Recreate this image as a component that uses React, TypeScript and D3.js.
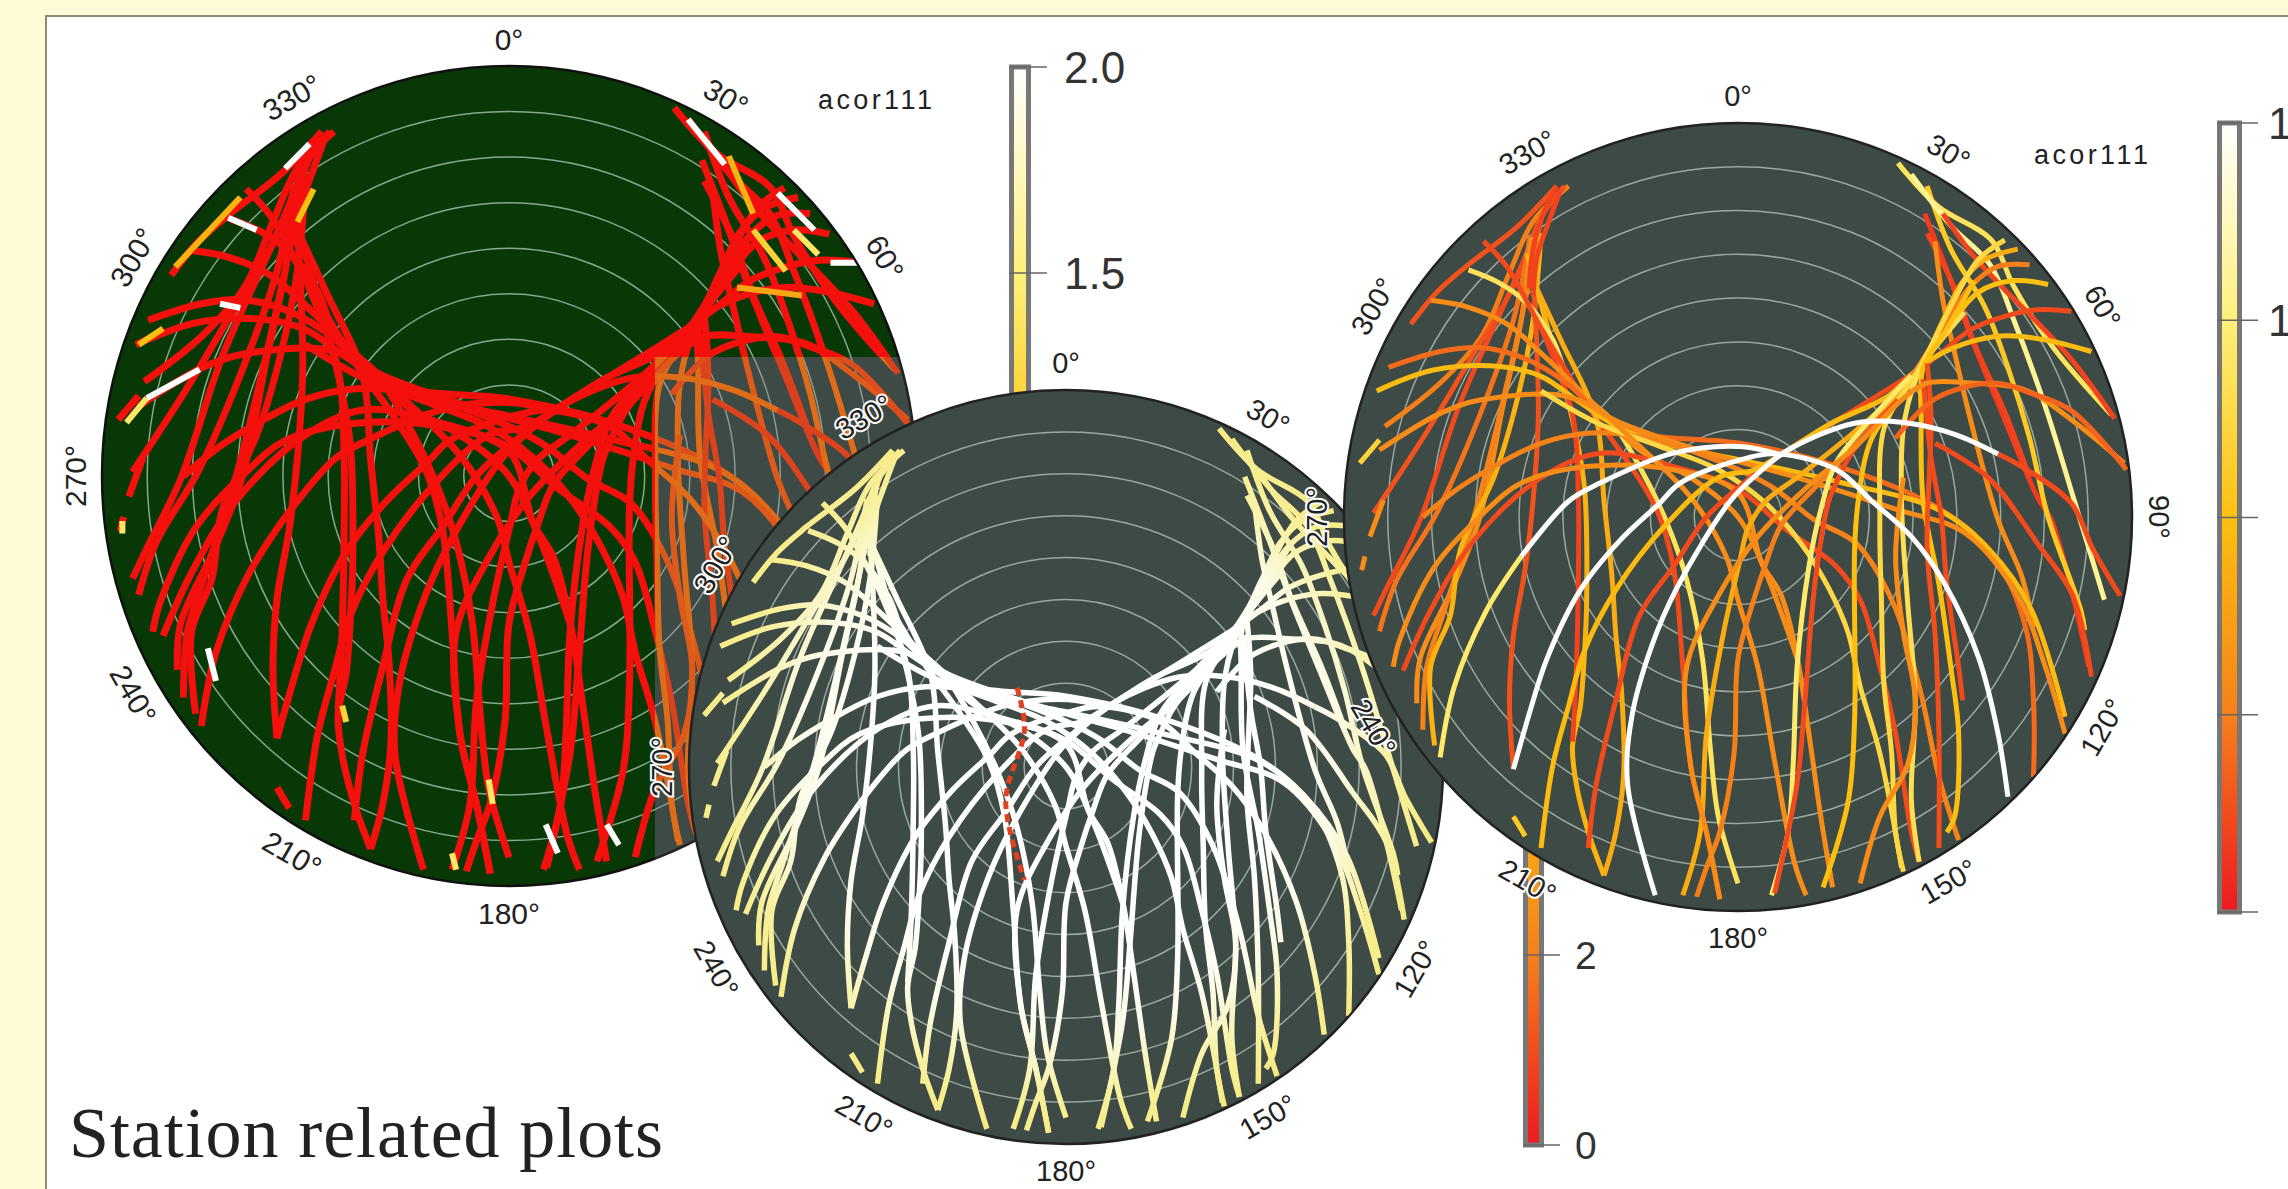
import React from "react";
import * as d3 from "d3";

type Pt = [number, number];

// Sky tracks: [east, north] as percent of the horizon radius
const acrossFromLeft: Pt[][] = [
  [[-88.7,38],[-75.6,42],[-65.5,43],[-53.6,40],[-43.5,34],[-35,26.3],[-25,21.3],[0.5,18.7],[25,13],[51.6,1.8],[65,-10],[73,-28],[75,-46.5],[75,-66]],
  [[-91.7,32],[-77.3,37.3],[-60.4,38.2],[-50,35.7],[-40,29],[-29,22.1],[-12,17],[0.5,14.5],[25,9],[51,1.8],[63.5,-8],[74.5,-23.6],[83,-50.7]],
  [[-91,17],[-75.6,26.3],[-65.5,29.7],[-43.5,30.6],[-30,24],[-10,17],[15,10],[40,2],[57.5,-4],[71,-20],[78,-38],[83,-55]],
  [[-80,0],[-71.4,7],[-62,12.8],[-50,18.7],[-37.5,21.3],[-25,20.4],[-8,15.4],[8,8],[19.5,-0.8],[30,-6.7],[39,-21],[46,-43],[51,-66],[56,-82]],
  [[-85,-39],[-78,-23.6],[-67,-5.9],[-50,10],[-35,16.2],[-16.4,12.8],[0,7],[12,-3],[25,-12.6],[31,-21],[36,-38],[40,-55],[44,-80],[46,-87.5]],
  [[-87.5,-38],[-85.8,-31],[-77,-12.6],[-64.6,1],[-55,8.6],[-38.4,12.8],[-16.4,12],[0,6],[6,-11.6],[11,-20],[15,-35.5],[18,-55],[21,-76],[24,-94]],
  [[-50,32],[-36,24],[-20,18],[-5,12],[7,3.5],[16,-6.7],[23,-18],[28,-29.5],[31,-43],[36,-60],[41.5,-89]],
  [[-38,30],[-25,18],[-12,5],[-3,-10],[0,-21],[5,-38],[9.3,-62],[14.4,-88],[17.3,-96]],
];
const acrossFromLeftValues = [0.2, 0.48, 0.3, 0.26, 0.12, 0.3, 0.62, 0.3];

const yellowHook: Pt[] = [[-75.6,-61],[-72,-43],[-64,-24],[-55,-10]];

const whiteArcs: Pt[][] = [
  [[-55,-10],[-43,4],[-35,8.6],[-16.4,16.2],[0.5,17.9],[10,16]],
  [[-57,-64],[-53,-50],[-48.5,-36],[-40,-18.5],[-30,-6],[-20,3.4],[-14.7,8.6],[0.5,14.5],[10,16],[25,12],[34,4],[44,-5],[52.5,-17],[61,-35.5],[66,-55],[68.5,-71]],
  [[-21,-96],[-28,-68],[-27,-51],[-22,-33],[-15.5,-18],[-2,4],[5,11],[12.7,17],[29.6,23.8],[42,24],[55,21],[66,16]],
];
const whiteArcValues = [1, 1, 1];

const acrossFromRight: Pt[][] = [
  [[84.6,52.2],[76,52.6],[67.7,50.9],[59,47.5],[52.5,42.4],[45.7,37.3],[25.4,24.7],[12.7,17],[2,9],[-8,0],[-16,-12],[-25,-25],[-31,-46.5],[-36,-68],[-38,-84]],
  [[89.7,42],[77.8,45],[67.7,46],[57.5,44],[47.4,39],[38,30.6],[23.7,23.8],[12.7,17],[4.2,12],[-5,10],[-18,-1.6],[-31,-18.5],[-39,-34],[-43,-48],[-47,-63],[-50,-84]],
  [[74,64],[66,63.6],[59,58.5],[52.5,49],[45,37],[33,22],[20,8],[11,-2],[7,-12],[4,-21],[0,-36],[-1,-60],[-4.5,-79.5],[-8,-89],[-10.5,-96.4]],
  [[71,68],[62.6,65.3],[56.7,59.3],[51.6,49],[45,36],[30,22],[15,10],[7,4],[2.5,-3],[0.5,-11],[-3.7,-29.5],[-8,-55],[-9.6,-80],[-14,-96]],
  [[78.7,59],[70,60],[61,57],[52,46],[43,33],[33.8,19.6],[30.5,4],[29.6,-8],[29.6,-51],[28,-72],[21.6,-94]],
  [[67.7,70.3],[61,65.3],[54,53.4],[49,43.3],[44.8,35.7],[37.2,23],[36,-0.7],[36.4,-21],[37,-42],[39,-60],[40,-80],[42,-90]],
  [[57.5,52],[50,43],[46.5,38],[42.3,24.7],[41.5,4],[43,-21],[45,-46.5],[44,-72],[46,-87.5]],
  [[60,60],[52,46],[47,38],[46.5,24.7],[47,4],[51,-17],[54,-38],[56,-55],[55,-76],[53,-80]],
  [[44,36],[33,24],[25,14],[21,1.8],[18,-12.6],[15,-38],[14,-63],[12.7,-80],[8.5,-96]],
  [[40.6,29.7],[28.8,16.2],[24.5,7.7],[23,4],[19.5,-17],[17,-46.5],[15,-67.6],[9.3,-95.5]],
  [[48,39],[49,24.7],[48,-8],[50,-29.5],[51,-55],[51,-84]],
  [[47,35],[49,15],[51.6,0],[53,-17],[56,-38],[57,-46.5]],
  [[42,10],[40,-10],[42,-29.5],[45,-46.5],[43,-63],[36,-76],[31,-93]],
  [[98,13.7],[84.6,24.7],[72.8,32.3],[59,34],[48,34],[41.5,29.7],[30,18],[18,8],[5,-5],[-5,-20],[-13,-38],[-12,-63],[-8,-80],[-4.6,-97]],
  [[98.6,12],[84.6,27],[74.4,31.4],[65,34],[50,30],[40,20]],
];
const acrossFromRightValues = [0.12, 0.48, 0.25, 0.42, 0.5, 0.62, 0.66, 0.5, 0.72, 0.12, 0.13, 0.12, 0.3, 0.3, 0.18];

const fansRight: Pt[][] = [
  [[40.6,89.8],[50.8,78.8],[64.3,70.3],[70,58.5],[80,43],[94.7,26]],
  [[47.4,77],[54,60],[59,46],[67.7,24.7],[76,5],[79.5,-0.7],[85,-20],[89,-38]],
  [[48,72],[55,58],[60,44],[68,26],[74,10]],
  [[48,84],[54,68],[62.6,53.4],[68.5,38],[74,20],[78.7,0],[87,-23.6],[88,-28.7]],
  [[44,87],[54,74],[64,64],[70,50],[78,28],[85.4,4],[93,-21]],
  [[50,70],[52,55],[55,41.6],[59,24.7],[66,-0.7],[72,-15],[75,-28]],
  [[95.6,25],[84.6,40],[74.4,51],[67.7,57.7],[60,66],[52,77]],
  [[50,18.7],[63.5,10],[76,-6.7],[85,-20],[89.7,-40.5]],
  [[66,16],[72,12.8],[84.6,3.5],[90,-8],[97,-20]],
];
const fansRightValues = [0.68, 0.08, 0.1, 0.55, 0.8, 0.3, 0.1, 0.12, 0.12];

const fansLeft: Pt[][] = [
  [[-43,84],[-52,75],[-58,62],[-65,46],[-75.6,34],[-89.6,23]],
  [[-44,84],[-50,76],[-57,58.5],[-67,41.6],[-80,20],[-92.5,1]],
  [[-53.6,67],[-59.6,53.4],[-70.5,29],[-80.7,-0.8],[-89,-17.7],[-92.5,-25]],
  [[-52.8,71],[-57,50],[-66,24.7],[-76.5,0.9],[-86.6,-16],[-91,-29]],
  [[-52.4,71],[-55,50],[-59.5,29],[-65.5,0],[-72,-17],[-80.7,-36],[-81.5,-47.3]],
  [[-50,76],[-54,55],[-60,28],[-67,0],[-74.8,-24.5],[-79,-38],[-80,-54]],
  [[-50,72],[-52,50],[-56,30],[-62,10],[-70.5,-8.4],[-73,-25],[-78,-38],[-77,-58]],
  [[-52.4,67],[-51,41.6],[-50.7,24.7],[-52,4.3],[-54,-13],[-57,-30],[-58,-47],[-57,-64]],
  [[-53.6,67],[-47,43.3],[-42,24.7],[-39,7.7],[-38.4,-21],[-39,-35],[-40,-48],[-42,-58.3],[-41,-68],[-38,-80],[-34,-91]],
  [[-52.8,54],[-50,48],[-42,26],[-40.5,4],[-40.5,-13],[-41,-38],[-42,-57]],
  [[-83,49],[-76.5,57],[-69,63.6],[-56,73.7],[-46,84]],
  [[-68.4,62.7],[-60.4,59.3],[-53.6,54.3],[-47,45],[-42,33],[-33,25.5],[-25,12.8],[-18,-1.6],[-13,-16],[-9,-36],[-7,-59],[-5,-76],[0,-93]],
  [[-64.6,70],[-58.7,63.6],[-50,48],[-38,28],[-28,14],[-20.6,1.8],[-16.4,-12.6],[-14,-38],[-12,-63.4],[-8,-80],[-4.6,-97]],
  [[-78,55],[-69,53.4],[-58.7,49],[-50,41.6],[-38,30],[-25,17],[-12,10],[0,0],[7,-14],[13,-30],[15,-36]],
  [[-52,60],[-45,45],[-36,25],[-34,4],[-32,-15],[-31,-30],[-29.5,-45],[-29,-65],[-31,-80],[-34,-91]],
  [[-46,84],[-49,78],[-52,68],[-53,58]],
  [[-45,83],[-48,75],[-51,66],[-52,56]],
];
const fansLeftValues = [0.25, 0.14, 0.12, 0.22, 0.3, 0.26, 0.45, 0.14, 0.45, 0.1, 0.14, 0.68, 0.12, 0.3, 0.42, 0.1, 0.1];

const shortPieces: Pt[][] = [
  [[-96,13.7],[-91,19.6]],
  [[-93.4,-5],[-90,4.3]],
  [[-95.5,-13.5],[-94.7,-10]],
  [[-57,-76],[-54,-81]],
];
const shortPieceValues = [0.6, 0.3, 0.3, 0.55];

// Off-colour fragments of the first plot
const speckles: Pt[][] = [
  [[44,87],[53,76]],[[66,69],[75,60]],[[79,52],[86,52]],[[-71,42],[-66,41]],
  [[-89,19],[-76,26]],[[-94,13],[-89,19]],[[-55,75],[-49,81]],[[-69,63],[-62,60]],
  [[-82,51],[-66,68]],[[-91,32],[-85,36]],[[-95,-11],[-95,-14]],[[-74,-42],[-72,-50]],
  [[9,-85],[12,-92]],[[24,-85],[27,-90]],[[-5,-74],[-4,-80]],[[-41,-56],[-40,-60]],
  [[-14,-92],[-13,-96]],[[54,78],[60,64]],[[60,60],[68,50]],[[56,46],[72,44]],
  [[-48,70],[-52,62]],[[70,60],[76,54]],
];
const speckleValues = [1, 1, 1, 1, 1, 0.7, 1, 1, 0.45, 0.5, 0.7, 1, 1, 1, 0.7, 0.6, 0.7, 0.45, 0.6, 0.4, 0.5, 0.7];

const strangeTrack: Pt[] = [[-13,21],[-11,10],[-16,-9],[-11,-30]];

const ringElevations = [10, 20, 30, 40, 50, 60, 70, 80];
const azimuths = [0, 30, 60, 90, 120, 150, 180, 210, 240, 270, 300, 330];
const plot1Azimuths = [0, 30, 60, 180, 210, 240, 270, 300, 330];
const plot2Azimuths = [0, 30, 120, 150, 180, 210, 240, 270, 300, 330];

const colorStops = [0, 0.25, 0.5, 0.75, 1];
const colorValues = ["#ee1a20", "#f5801a", "#fdc010", "#fff07a", "#ffffff"];

const bar1Ticks = [0, 0.5, 1, 1.5, 2];
const bar1Labels = ["0.0", "0.5", "1.0", "1.5", "2.0"];
const bar2Ticks = [0, 2, 4, 6, 8];
const bar2Labels = ["0", "2", "4", "6", "8"];
const bar3Ticks = [0, 0.4, 0.8, 1.2, 1.6];
const bar3Labels = ["", "", "", "1.2", "1.6"];

const allTracks = [...fansLeft, ...fansRight, ...acrossFromLeft, ...acrossFromRight, ...shortPieces, yellowHook, ...whiteArcs];
const allValues = [...fansLeftValues, ...fansRightValues, ...acrossFromLeftValues, ...acrossFromRightValues, ...shortPieceValues, 0.72, ...whiteArcValues];

const color = d3.scaleLinear<string>().domain(colorStops).range(colorValues).interpolate(d3.interpolateRgb);

const SANS = "'Liberation Sans', Arial, sans-serif";

function makeGeom(cx: number, cy: number, rx: number, ry: number) {
  const x = d3.scaleLinear().domain([-100, 100]).range([cx - rx, cx + rx]);
  const y = d3.scaleLinear().domain([-100, 100]).range([cy + ry, cy - ry]);
  const line = d3.line<Pt>().x((d) => x(d[0])).y((d) => y(d[1])).curve(d3.curveCatmullRom.alpha(0.5));
  return { x, y, line, cx, cy, rx, ry };
}
type Geom = ReturnType<typeof makeGeom>;

const g1 = makeGeom(509, 476, 407, 410);
const g2 = makeGeom(1066, 767, 377, 377);
const g3 = makeGeom(1738, 517, 394, 394);

function Disk({ g, fill, ring, stroke, children, id }: any) {
  const ringR = d3.scaleLinear().domain([0, 90]).range([1, 0]);
  return (
    <g>
      <ellipse cx={g.cx} cy={g.cy} rx={g.rx} ry={g.ry} fill={fill} stroke={stroke} strokeWidth={2.5} />
      {ringElevations.map((e) => (
        <ellipse key={e} cx={g.cx} cy={g.cy} rx={g.rx * ringR(e)} ry={g.ry * ringR(e)} fill="none" stroke={ring} strokeWidth={1.5} />
      ))}
      <clipPath id={id}>
        <ellipse cx={g.cx} cy={g.cy} rx={g.rx - 1} ry={g.ry - 1} />
      </clipPath>
      <g clipPath={`url(#${id})`} fill="none" strokeLinecap="butt" strokeLinejoin="round">
        {children}
      </g>
    </g>
  );
}

function AzLabels({ g, list, halo, size = 30 }: { g: Geom; list: number[]; halo?: boolean; size?: number }) {
  return (
    <g fontFamily={SANS} fontSize={size} fill="#222">
      {list.map((a) => {
        const t = (a * Math.PI) / 180;
        const px = g.cx + Math.sin(t) * (g.rx + 27);
        const py = g.cy - Math.cos(t) * (g.ry + 27);
        const rot = a <= 90 ? a : a < 270 ? a - 180 : a - 360;
        return (
          <text
            key={a}
            transform={`translate(${px},${py}) rotate(${rot})`}
            textAnchor="middle"
            dominantBaseline="central"
            stroke={halo ? "#fff" : "none"}
            strokeWidth={halo ? 4 : 0}
            paintOrder="stroke"
          >
            {a}°
          </text>
        );
      })}
    </g>
  );
}

function ColorBar({ x0, x1, y0, y1, ticks, labels, domain, id, labelX, size }: any) {
  const y = d3.scaleLinear().domain(domain).range([y0, y1]);
  return (
    <g>
      <linearGradient id={id} x1="0" y1="1" x2="0" y2="0">
        {colorStops.map((s, i) => (
          <stop key={s} offset={s} stopColor={colorValues[i]} />
        ))}
      </linearGradient>
      <rect x={x0 + 2.5} y={y1} width={x1 - x0 - 5} height={y0 - y1} fill={`url(#${id})`} stroke="#777" strokeWidth={5} />
      {ticks.map((t: number, i: number) => (
        <g key={t}>
          <line x1={x0} x2={x1 + 16} y1={y(t)} y2={y(t)} stroke="#666" strokeWidth={1.6} />
          <text x={labelX} y={y(t)} dy="0.36em" fontFamily={SANS} fontSize={size} fill="#333">
            {labels[i]}
          </text>
        </g>
      ))}
    </g>
  );
}

function Acor({ x, y }: { x: number; y: number }) {
  return (
    <text x={x} y={y} fontFamily={SANS} fontSize={27} letterSpacing={3.4} fill="#222">
      acor111
    </text>
  );
}

export default function App() {
  const whiteEdge = "plot2Fade";
  return (
    <svg
      width={2288}
      height={1189}
      viewBox="0 0 2288 1189"
      style={{ position: "fixed", left: 0, top: 0, display: "block" }}
    >
      <defs>
        <clipPath id="outsideOverlay">
          <path d="M0,0H2288V357H655V1189H0Z" />
        </clipPath>
        <clipPath id="insideOverlay">
          <rect x={655} y={357} width={1633} height={832} />
        </clipPath>
        <radialGradient id={whiteEdge} gradientUnits="userSpaceOnUse" cx={g2.cx} cy={g2.cy} r={g2.rx}>
          <stop offset="0.55" stopColor="#ffffff" />
          <stop offset="0.72" stopColor="#fbfbe6" />
          <stop offset="0.88" stopColor="#f8f09a" />
          <stop offset="1" stopColor="#f6ea80" />
        </radialGradient>
      </defs>

      <rect width={2288} height={1189} fill="#fffbd6" />
      <rect x={46} y={16} width={2300} height={1300} fill="#fff" stroke="#8c8c78" strokeWidth={2} />

      {/* first plot */}
      <g clipPath="url(#outsideOverlay)">
        <Disk g={g1} id="disk1" fill="#083806" ring="#86a890" stroke="#111">
          {allTracks.map((t, i) => (
            <path key={i} d={g1.line(t)!} stroke="#f4100c" strokeWidth={7} />
          ))}
          {speckles.map((t, i) => (
            <path key={i} d={g1.line(t)!} stroke={color(speckleValues[i])} strokeWidth={6} />
          ))}
        </Disk>
      </g>
      <g clipPath="url(#insideOverlay)">
        <Disk g={g1} id="disk1b" fill="#3e4a45" ring="#8c9a94" stroke="#222">
          {allTracks.map((t, i) => (
            <path key={i} d={g1.line(t)!} stroke={d3.interpolateRgb(color(Math.min(allValues[i], 0.5)), "#cf3f1c")(0.65)} strokeWidth={6} />
          ))}
        </Disk>
      </g>
      <AzLabels g={g1} list={plot1Azimuths} size={30} />
      <Acor x={818} y={109} />
      <ColorBar x0={1009} x1={1031} y0={891} y1={67} ticks={bar1Ticks} labels={bar1Labels} domain={[0, 2]} id="bar1" labelX={1064} size={44} />

      {/* second plot */}
      <ColorBar x0={1523} x1={1544} y0={1145} y1={385} ticks={bar2Ticks} labels={bar2Labels} domain={[0, 8]} id="bar2" labelX={1575} size={39} />
      <Disk g={g2} id="disk2" fill="#3e4a45" ring="#9aa8a0" stroke="#222">
        {allTracks.map((t, i) => (
          <path key={i} d={g2.line(t)!} stroke={`url(#${whiteEdge})`} strokeWidth={5.5} />
        ))}
        <path d={g2.line(strangeTrack)!} stroke="#e2401e" strokeWidth={5} strokeDasharray="8 5" />
      </Disk>
      <AzLabels g={g2} list={plot2Azimuths} halo size={29} />

      {/* third plot */}
      <Disk g={g3} id="disk3" fill="#3e4a45" ring="#9aa8a0" stroke="#222">
        {allTracks.map((t, i) => (
          <path key={i} d={g3.line(t)!} stroke={color(allValues[i])} strokeWidth={5} />
        ))}
      </Disk>
      <AzLabels g={g3} list={azimuths} halo size={29} />
      <Acor x={2034} y={164} />
      <ColorBar x0={2217} x1={2242} y0={912} y1={123} ticks={bar3Ticks} labels={bar3Labels} domain={[0, 1.6]} id="bar3" labelX={2268} size={44} />

      <text x={69} y={1157} fontFamily="'Liberation Serif', 'Times New Roman', serif" fontSize={72} fill="#222" textLength={594}>
        Station related plots
      </text>
    </svg>
  );
}
